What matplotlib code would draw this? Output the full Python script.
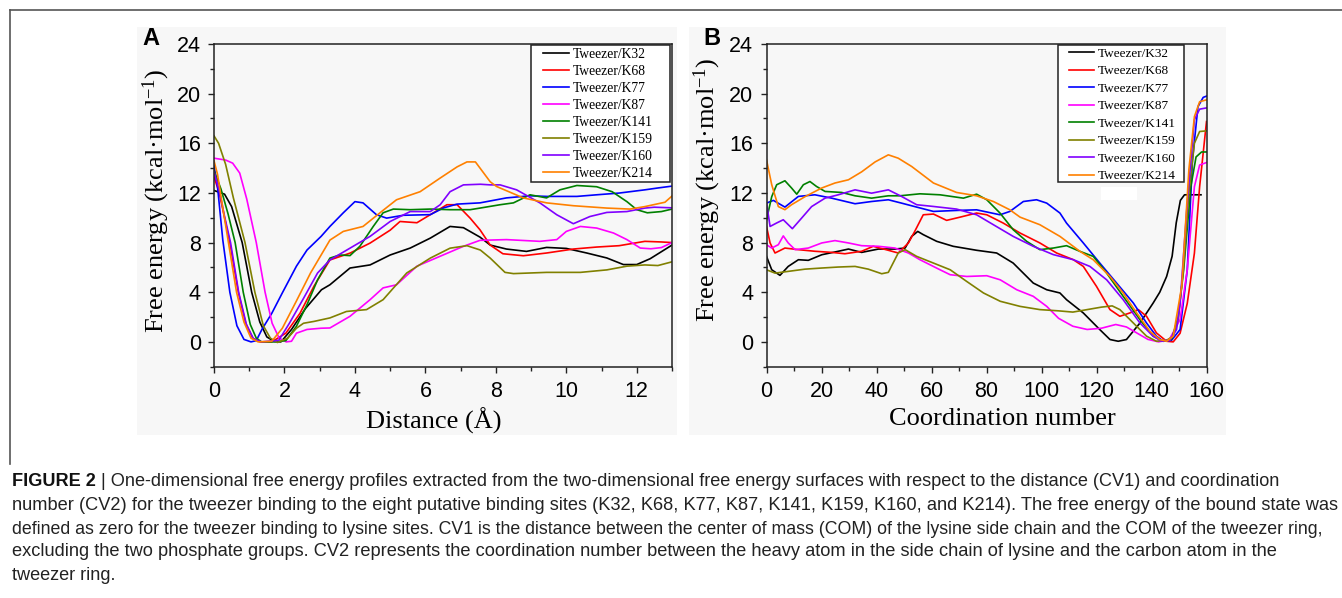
import matplotlib
matplotlib.use('Agg')
import matplotlib.pyplot as plt
from matplotlib.patches import Rectangle
from matplotlib.lines import Line2D
from matplotlib.ticker import MultipleLocator

plt.rcParams['font.family'] = ['Liberation Sans', 'DejaVu Sans']
plt.rcParams['mathtext.fontset'] = 'custom'
plt.rcParams['mathtext.rm'] = 'Liberation Serif'
plt.rcParams['mathtext.it'] = 'Liberation Serif:italic'
plt.rcParams['mathtext.bf'] = 'Liberation Serif:bold'

# ---------------- data ----------------
labels = ['Tweezer/K32', 'Tweezer/K68', 'Tweezer/K77', 'Tweezer/K87',
          'Tweezer/K141', 'Tweezer/K159', 'Tweezer/K160', 'Tweezer/K214']
colors = ['#000000', '#ff0000', '#0000ff', '#ff00ff',
          '#008000', '#808000', '#8000ff', '#ff8000']

# Panel A: free energy vs distance (Angstrom)
a_k32_x = [0, 0.3, 0.5, 0.8, 1.07, 1.3, 1.5, 1.7, 1.9, 2.2, 2.6, 3.05, 3.29, 3.86, 4.43, 5.0, 5.57, 6.14, 6.7, 7.08, 7.55, 7.84, 8.3, 8.87, 9.44, 10.0, 10.58, 11.15, 11.62, 12.0, 12.38, 13.0]
a_k32_y = [12.2, 11.9, 10.9, 8.0, 4.0, 1.6, 0.4, 0.05, 0.0, 1.0, 2.7, 4.2, 4.6, 5.95, 6.2, 7.0, 7.56, 8.36, 9.3, 9.2, 8.44, 7.8, 7.48, 7.29, 7.61, 7.53, 7.16, 6.76, 6.23, 6.23, 6.7, 7.8]

a_k68_x = [0, 0.15, 0.3, 0.45, 0.69, 0.9, 1.1, 1.3, 1.64, 2.04, 2.44, 2.84, 3.29, 3.86, 4.43, 5.0, 5.28, 5.76, 6.14, 6.61, 6.9, 7.27, 7.55, 7.84, 8.2, 8.78, 9.44, 10.2, 10.86, 11.5, 12.23, 12.7, 13.0]
a_k68_y = [13.3, 12.0, 10.0, 8.0, 4.0, 1.5, 0.3, 0.0, 0.0, 0.7, 2.3, 4.5, 6.6, 7.15, 7.96, 9.0, 9.7, 9.6, 10.25, 11.05, 11.05, 9.97, 9.03, 7.8, 7.1, 6.94, 7.16, 7.48, 7.64, 7.75, 8.1, 8.05, 8.0]

a_k77_x = [0, 0.1, 0.25, 0.45, 0.65, 0.85, 1.05, 1.2, 1.36, 1.64, 1.94, 2.34, 2.64, 3.04, 3.29, 3.67, 4.0, 4.23, 4.61, 4.9, 5.37, 6.14, 6.52, 6.9, 7.55, 8.3, 8.97, 9.44, 10.3, 10.86, 11.5, 12.23, 12.6, 13.0]
a_k77_y = [14.2, 12.5, 8.2, 4.0, 1.3, 0.2, 0.0, 0.1, 1.0, 2.3, 3.95, 6.1, 7.4, 8.5, 9.3, 10.4, 11.3, 11.2, 10.25, 9.97, 10.2, 10.25, 10.8, 11.1, 11.2, 11.6, 11.77, 11.72, 11.72, 11.85, 11.99, 12.25, 12.4, 12.55]

a_k87_x = [0, 0.33, 0.53, 0.73, 0.93, 1.2, 1.45, 1.65, 1.85, 2.05, 2.2, 2.34, 2.64, 3.04, 3.29, 3.86, 4.43, 4.8, 5.18, 5.76, 6.42, 7.08, 7.55, 8.3, 9.25, 9.73, 10.0, 10.4, 10.86, 11.34, 11.72, 12.1, 12.4, 12.7, 13.0]
a_k87_y = [14.8, 14.65, 14.4, 13.6, 11.5, 8.0, 4.0, 1.5, 0.3, 0.0, 0.05, 0.7, 1.0, 1.1, 1.12, 2.06, 3.4, 4.35, 4.6, 6.1, 6.9, 7.7, 8.18, 8.24, 8.1, 8.24, 8.9, 9.3, 9.17, 8.77, 8.24, 7.56, 7.5, 7.6, 8.0]

a_k141_x = [0, 0.2, 0.4, 0.6, 0.83, 1.03, 1.2, 1.35, 1.74, 2.04, 2.34, 2.64, 2.94, 3.29, 3.57, 3.86, 4.14, 4.52, 4.8, 5.09, 5.57, 6.14, 6.7, 7.27, 7.55, 8.12, 8.5, 8.97, 9.44, 9.82, 10.3, 10.86, 11.3, 11.72, 12.0, 12.3, 12.7, 13.0]
a_k141_y = [13.8, 12.3, 10.3, 8.0, 4.0, 1.4, 0.3, 0.0, 0.0, 0.1, 1.26, 3.0, 5.0, 6.75, 7.0, 6.95, 7.7, 9.3, 10.4, 10.7, 10.65, 10.7, 10.65, 10.65, 10.78, 11.05, 11.2, 11.85, 11.6, 12.25, 12.6, 12.5, 12.1, 11.3, 10.65, 10.4, 10.5, 10.7]

a_k159_x = [0, 0.13, 0.33, 0.55, 0.88, 1.16, 1.4, 1.6, 1.8, 2.09, 2.34, 2.54, 2.84, 3.29, 3.76, 4.33, 4.8, 5.47, 6.14, 6.7, 7.18, 7.56, 7.84, 8.26, 8.5, 9.44, 10.4, 11.15, 11.72, 12.23, 12.6, 13.0]
a_k159_y = [16.6, 16.0, 14.3, 11.6, 8.0, 4.0, 1.3, 0.3, -0.05, 0.3, 1.1, 1.5, 1.65, 1.93, 2.45, 2.6, 3.4, 5.55, 6.75, 7.55, 7.75, 7.4, 6.75, 5.6, 5.5, 5.6, 5.6, 5.8, 6.1, 6.2, 6.15, 6.45]

a_k160_x = [0, 0.15, 0.3, 0.47, 0.7, 0.92, 1.12, 1.35, 1.84, 2.14, 2.54, 2.94, 3.29, 3.86, 4.43, 5.0, 5.57, 6.14, 6.42, 6.7, 7.08, 7.56, 7.84, 8.12, 8.59, 9.25, 9.73, 10.2, 10.67, 11.15, 11.72, 12.23, 12.5, 13.0]
a_k160_y = [13.7, 12.2, 10.1, 8.0, 4.0, 1.4, 0.25, 0.0, 0.13, 1.5, 3.5, 5.55, 6.6, 7.55, 8.5, 9.7, 10.5, 10.5, 11.05, 12.1, 12.65, 12.7, 12.65, 12.65, 12.25, 11.2, 10.24, 9.52, 10.1, 10.43, 10.5, 10.78, 10.85, 10.8]

a_k214_x = [0, 0.1, 0.25, 0.41, 0.64, 0.85, 1.05, 1.25, 1.64, 1.94, 2.34, 2.74, 3.29, 3.67, 4.23, 4.8, 5.18, 5.85, 6.42, 6.9, 7.18, 7.42, 7.84, 8.02, 8.78, 9.44, 10.2, 11.15, 11.81, 12.23, 12.8, 13.0]
a_k214_y = [14.6, 13.5, 10.8, 8.0, 4.0, 1.6, 0.3, 0.0, 0.05, 1.1, 3.3, 5.55, 8.2, 8.9, 9.3, 10.6, 11.45, 12.1, 13.2, 14.1, 14.5, 14.5, 12.9, 12.52, 11.6, 11.2, 10.97, 10.78, 10.7, 10.9, 11.25, 11.75]

# Panel B: free energy vs coordination number
b_k32_x = [0, 1.9, 4.9, 7.9, 11.6, 15.2, 20.1, 26.1, 29.8, 34.6, 40.7, 46.7, 50.4, 52.8, 55, 57, 61.9, 67.9, 76.4, 83.7, 89.7, 97, 101.9, 106.7, 109.1, 115.2, 121.2, 124.9, 127.9, 130.9, 135.8, 140.6, 143, 145.5, 147.5, 149, 150.5, 152, 158]
b_k32_y = [6.89, 5.81, 5.36, 6.08, 6.62, 6.57, 7.02, 7.3, 7.48, 7.21, 7.48, 7.48, 7.56, 8.5, 8.9, 8.64, 8.1, 7.7, 7.38, 7.16, 6.35, 4.74, 4.2, 3.94, 3.4, 2.33, 0.99, 0.19, 0.05, 0.19, 1.52, 3.13, 4.0, 5.27, 6.9, 9.6, 11.4, 11.85, 11.85]

b_k68_x = [0, 1.3, 3.1, 6.7, 11.6, 17.6, 23.7, 28.5, 34.6, 38.8, 44.3, 47.9, 51.6, 53.9, 57, 60.7, 65.5, 70.4, 76.4, 80.1, 86.1, 92.2, 99.4, 105.5, 111.6, 115.2, 120, 124.9, 128.5, 132.1, 135.2, 138.2, 141.8, 145.5, 147.9, 150.4, 153, 155.6, 157.5, 160]
b_k68_y = [9.3, 7.97, 7.16, 7.56, 7.43, 7.3, 7.21, 7.1, 7.3, 7.7, 7.38, 7.16, 7.97, 8.9, 10.24, 10.3, 9.79, 10.05, 10.38, 10.24, 9.57, 8.77, 7.97, 7.16, 6.62, 6.08, 4.47, 2.6, 2.06, 2.33, 2.6, 2.06, 0.72, 0.05, 0.0, 0.7, 3.1, 7.15, 12.5, 17.75]

b_k77_x = [0, 2.5, 6.7, 11.6, 17.6, 23.7, 32.2, 38.2, 44.3, 49.1, 54.6, 60.7, 69.1, 76.4, 84.9, 88.5, 93.4, 98.2, 101.9, 106.7, 109.1, 115.2, 121.2, 127.3, 133.4, 138.2, 141.8, 144.3, 147.3, 150.4, 153, 154.9, 156.9, 158.8, 160]
b_k77_y = [11.18, 11.4, 10.86, 11.72, 11.85, 11.58, 11.13, 11.31, 11.45, 11.18, 10.86, 10.51, 10.59, 10.64, 10.24, 10.51, 11.31, 11.45, 11.18, 10.38, 9.57, 7.97, 6.35, 4.74, 3.13, 1.52, 0.46, 0.05, 0.13, 1.0, 5.8, 14.65, 18.95, 19.7, 19.8]

b_k87_x = [0, 1.9, 4.3, 6.1, 7.9, 10.4, 15.2, 20.1, 24.9, 29.8, 34.6, 40.7, 46.7, 51.6, 55.8, 63.1, 66.8, 72.8, 80.1, 85, 91, 97, 101.9, 106.2, 111.4, 116.6, 121.8, 127, 130.9, 134.8, 138.7, 142.6, 146.5, 150.4, 153, 155.6, 157.5, 160]
b_k87_y = [7.83, 7.56, 7.83, 8.54, 7.97, 7.43, 7.56, 7.97, 8.16, 7.97, 7.75, 7.7, 7.56, 7.16, 6.62, 5.81, 5.41, 5.27, 5.33, 5.0, 4.2, 3.67, 2.86, 1.9, 1.26, 1.0, 1.1, 1.4, 1.2, 0.7, 0.2, 0.0, 0.2, 1.8, 5.8, 12.5, 14.25, 14.45]

b_k141_x = [0, 1.9, 3.7, 6.7, 9.1, 11, 13.4, 15.8, 18.2, 21.3, 27.3, 32.2, 38.2, 44.3, 48.5, 55.8, 63.1, 71.6, 76.4, 80.1, 84.9, 89.7, 94.6, 99.4, 104.3, 109.1, 114, 118.8, 123.7, 129.7, 135.8, 140.6, 144.3, 147.3, 149.7, 151.7, 154.3, 156.2, 158.2, 160]
b_k141_y = [9.84, 11.7, 12.66, 12.98, 12.4, 11.9, 12.66, 12.92, 12.52, 12.12, 12.04, 11.77, 11.58, 11.77, 11.77, 11.93, 11.85, 11.58, 11.9, 11.45, 10.38, 9.04, 8.1, 7.43, 7.56, 7.75, 7.29, 6.89, 5.54, 3.67, 1.79, 0.46, 0.05, 0.19, 2.0, 5.8, 12.5, 14.9, 15.3, 15.3]

b_k159_x = [0, 3.1, 7.9, 14, 20.1, 26.1, 32.2, 37, 41.9, 44.3, 47.9, 50.4, 54.6, 60.7, 66.8, 72.8, 78.9, 85, 92.2, 99.4, 106.2, 111.4, 116.6, 121.8, 125.7, 128.5, 133.4, 138.2, 141.8, 145.5, 147.9, 149.7, 151.7, 153.6, 155.6, 157.5, 160]
b_k159_y = [5.81, 5.54, 5.68, 5.86, 5.95, 6.03, 6.08, 5.86, 5.49, 5.6, 7.16, 7.43, 6.89, 6.35, 5.81, 4.87, 3.94, 3.27, 2.86, 2.6, 2.5, 2.4, 2.6, 2.8, 2.9, 2.6, 1.52, 0.46, 0.05, 0.13, 0.46, 1.8, 6.1, 12.0, 16.0, 16.95, 17.0]

b_k160_x = [0, 1.3, 3.7, 6.1, 9.4, 12.8, 16.4, 21.3, 26.1, 32.2, 38.2, 44.3, 49.1, 54.6, 60.7, 69.1, 76.4, 82.5, 89.7, 97, 104.3, 111.6, 117.6, 123.7, 129.7, 135.8, 140.6, 143.7, 146.7, 149.1, 150.4, 153, 155.6, 157.5, 160]
b_k160_y = [11.2, 9.3, 9.58, 9.84, 9.12, 9.98, 10.9, 11.58, 11.85, 12.25, 11.98, 12.25, 11.72, 11.05, 10.91, 10.7, 10.24, 9.44, 8.5, 7.7, 7.03, 6.62, 6.08, 5.0, 3.4, 1.52, 0.46, 0.05, 0.13, 0.99, 3.1, 11.2, 17.9, 18.75, 18.85]

b_k214_x = [0, 1.9, 4.3, 6.7, 9.1, 14, 20.1, 24.9, 29.8, 34.6, 39.5, 44.3, 47.9, 52.8, 60.7, 69.1, 76.4, 82.5, 88.5, 92.2, 99.4, 106.7, 114, 118.8, 124.9, 129.7, 134.6, 139.4, 143, 145.5, 147.9, 151, 153.6, 155.6, 157.5, 160]
b_k214_y = [14.67, 12.66, 10.9, 10.65, 11.05, 11.7, 12.4, 12.8, 13.06, 13.7, 14.5, 15.07, 14.8, 14.13, 12.8, 12.04, 11.77, 11.31, 10.64, 10.05, 9.44, 8.5, 7.29, 6.62, 5.27, 3.94, 2.33, 0.86, 0.19, 0.05, 0.46, 4.5, 13.9, 18.15, 19.35, 19.5]

panel_a = [(a_k32_x, a_k32_y), (a_k68_x, a_k68_y), (a_k77_x, a_k77_y), (a_k87_x, a_k87_y),
           (a_k141_x, a_k141_y), (a_k159_x, a_k159_y), (a_k160_x, a_k160_y), (a_k214_x, a_k214_y)]
panel_b = [(b_k32_x, b_k32_y), (b_k68_x, b_k68_y), (b_k77_x, b_k77_y), (b_k87_x, b_k87_y),
           (b_k141_x, b_k141_y), (b_k159_x, b_k159_y), (b_k160_x, b_k160_y), (b_k214_x, b_k214_y)]

y_ticks = [0, 4, 8, 12, 16, 20, 24]

caption_lines = [
    "One-dimensional free energy profiles extracted from the two-dimensional free energy surfaces with respect to the distance (CV1) and coordination",
    "number (CV2) for the tweezer binding to the eight putative binding sites (K32, K68, K77, K87, K141, K159, K160, and K214). The free energy of the bound state was",
    "defined as zero for the tweezer binding to lysine sites. CV1 is the distance between the center of mass (COM) of the lysine side chain and the COM of the tweezer ring,",
    "excluding the two phosphate groups. CV2 represents the coordination number between the heavy atom in the side chain of lysine and the carbon atom in the",
    "tweezer ring.",
]

# ---------------- layout helpers ----------------
W, H = 1342, 598
fig = plt.figure(figsize=(W / 100, H / 100), dpi=100)
fig.patch.set_facecolor('white')


def fx(px):
    return px / W


def fy(py):
    return 1 - py / H


BG = '#f7f7f7'

# outer rule lines
fig.add_artist(Line2D([fx(10), 1.0], [fy(10), fy(10)], color='#555555', lw=1.2, zorder=-2))
fig.add_artist(Line2D([fx(10), fx(10)], [fy(10), fy(464)], color='#555555', lw=1.2, zorder=-2))

# light panel backgrounds
for x0, x1 in [(137, 677), (689, 1226)]:
    fig.add_artist(Rectangle((fx(x0), fy(435)), fx(x1) - fx(x0), fy(27) - fy(435),
                             transform=fig.transFigure, facecolor=BG, edgecolor='none', zorder=-1))


def make_axes(l, r, t=44, b=366.7):
    return fig.add_axes([fx(l), fy(b), fx(r) - fx(l), fy(t) - fy(b)])


def style(ax, xmax, xmaj, xmin_):
    ax.set_facecolor(BG)
    ax.set_xlim(0, xmax)
    ax.set_ylim(-2, 24)
    ax.xaxis.set_major_locator(MultipleLocator(xmaj))
    ax.xaxis.set_minor_locator(MultipleLocator(xmin_))
    ax.set_yticks(y_ticks)
    ax.yaxis.set_minor_locator(MultipleLocator(2))
    ax.tick_params(which='both', direction='out', top=False, right=False,
                   width=1.0, color='#222222', labelcolor='black')
    ax.tick_params(which='major', length=4.5)
    ax.tick_params(which='minor', length=3)
    ax.tick_params(axis='y', pad=5, labelsize=15.5)
    ax.tick_params(axis='x', pad=6, labelsize=15.5)
    for s in ax.spines.values():
        s.set_linewidth(1.1)
        s.set_color('#222222')


ylabel = "Free energy (kcal\u00b7mol$^{-1}$)"
serif = ['Liberation Serif', 'DejaVu Serif']


def legend_box(ax, l, r, t, b, hx, hy, size, spacing):
    ax.add_patch(Rectangle((fx(l), fy(b)), fx(r) - fx(l), fy(t) - fy(b), transform=fig.transFigure,
                           facecolor='white', edgecolor='#222222', lw=1.1, zorder=4, clip_on=False))
    ax.legend(loc='upper left', bbox_to_anchor=(fx(hx), fy(hy)), bbox_transform=fig.transFigure,
              frameon=False, prop={'family': serif, 'size': size}, handlelength=1.9,
              handletextpad=0.3, labelspacing=spacing, borderpad=0, borderaxespad=0)


# ---------------- panel A ----------------
axA = make_axes(214, 672)
style(axA, 13, 2, 1)
for (xs, ys), c, lab in zip(panel_a, colors, labels):
    axA.plot(xs, ys, color=c, lw=1.2, label=lab)
axA.set_xlabel("Distance (\u00c5)", fontsize=19, family=serif)
axA.xaxis.set_label_coords(0.479, (366.7 - 408) / 322.7)
axA.set_ylabel(ylabel, fontsize=19, family=serif)
axA.yaxis.set_label_coords((172.5 - 214) / 458, (366.7 - 201) / 322.7)
legend_box(axA, 531, 670, 45, 182, 543, 47.5, 9.8, 0.30)

# ---------------- panel B ----------------
axB = make_axes(766.5, 1206.5)
style(axB, 160, 20, 10)
for (xs, ys), c, lab in zip(panel_b, colors, labels):
    axB.plot(xs, ys, color=c, lw=1.2, label=lab)
axB.set_xlabel("Coordination number", fontsize=19, family=serif)
axB.xaxis.set_label_coords((1002.3 - 766.5) / 440, (366.7 - 408) / 322.7)
axB.set_ylabel(ylabel, fontsize=19, family=serif)
axB.yaxis.set_label_coords((722.9 - 766.5) / 440, (366.7 - 190) / 322.7)
legend_box(axB, 1058, 1184, 45, 182, 1069, 47.5, 9.5, 0.40)
axB.add_patch(Rectangle((fx(1101), fy(200)), fx(1137) - fx(1101), fy(187) - fy(200),
                        transform=fig.transFigure, facecolor='white', edgecolor='none', zorder=1.5))

# panel letters
fig.text(fx(151), fy(38.5), 'A', fontsize=17, weight='bold', ha='center', va='center')
fig.text(fx(712), fy(38.5), 'B', fontsize=17, weight='bold', ha='center', va='center')

# ---------------- caption ----------------
cap_y = [482, 506, 529, 552, 576]
cap_right = [1282, 1335, 1322, 1277]
renderer = fig.canvas.get_renderer()


def width_of(s, size, weight='normal'):
    t = fig.text(0, 0, s, fontsize=size, weight=weight)
    w = t.get_window_extent(renderer).width
    t.remove()
    return w


sizes = []
w1 = width_of("FIGURE 2", 11, 'bold') + width_of(" | " + caption_lines[0], 11)
sizes.append(11 * (cap_right[0] - 12) / w1)
for line, r in zip(caption_lines[1:4], cap_right[1:]):
    sizes.append(11 * (r - 12) / width_of(line, 11))
sizes.append(sum(sizes) / len(sizes))

bold = fig.text(fx(12), fy(cap_y[0]), "FIGURE 2", fontsize=sizes[0], weight='bold',
                va='center', ha='left', color='#111111')
bw = bold.get_window_extent(renderer).width
fig.text(fx(12 + bw), fy(cap_y[0]), " | " + caption_lines[0], fontsize=sizes[0],
         va='center', ha='left', color='#222222')
for line, yy, fs in zip(caption_lines[1:], cap_y[1:], sizes[1:]):
    fig.text(fx(12), fy(yy), line, fontsize=fs, va='center', ha='left', color='#222222')

fig.savefig('out.png', dpi=100, facecolor='white')
